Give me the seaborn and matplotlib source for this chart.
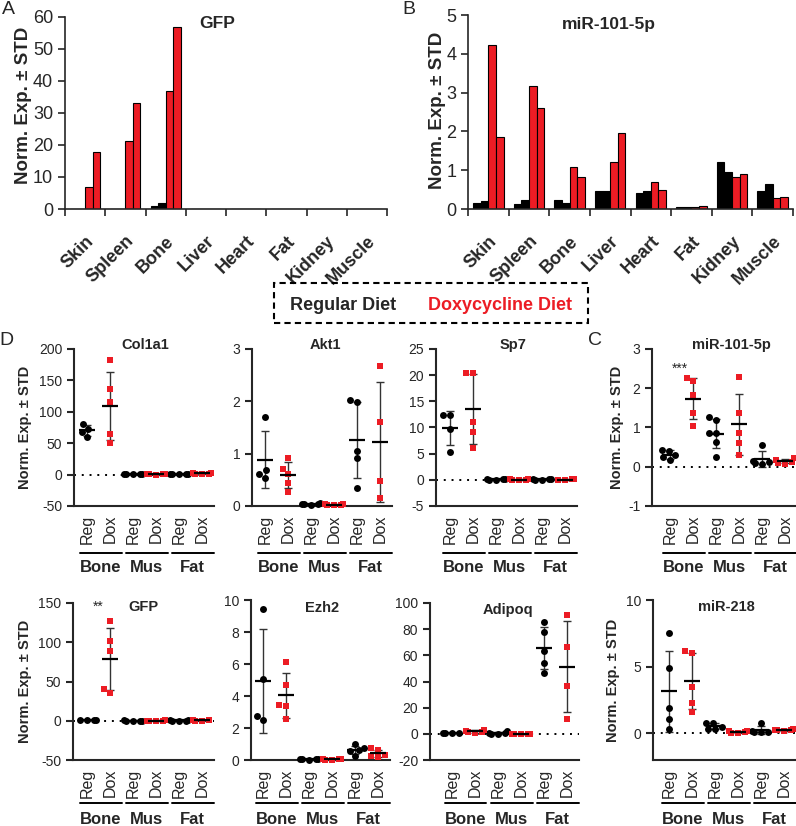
import warnings
import numpy as np
import pandas as pd
import matplotlib
matplotlib.use('Agg')
import matplotlib.pyplot as plt
import matplotlib.transforms as mtransforms
from matplotlib.patches import Rectangle
import seaborn as sns

warnings.filterwarnings('ignore')

# ---- panels A and B: bar charts per tissue (2 regular, 2 doxycycline mice) ----
tissues = ['Skin', 'Spleen', 'Bone', 'Liver', 'Heart', 'Fat', 'Kidney', 'Muscle']
bar_series = ['Reg 1', 'Reg 2', 'Dox 1', 'Dox 2']

gfp_reg1 = [0, 0, 0.8, 0, 0, 0, 0, 0]
gfp_reg2 = [0, 0, 2.0, 0, 0, 0, 0, 0]
gfp_dox1 = [7.0, 21.3, 36.8, 0, 0, 0, 0, 0]
gfp_dox2 = [17.7, 33.0, 56.7, 0, 0, 0, 0, 0]

mir101_reg1 = [0.15, 0.12, 0.22, 0.47, 0.40, 0.04, 1.20, 0.46]
mir101_reg2 = [0.20, 0.22, 0.15, 0.47, 0.47, 0.06, 0.96, 0.64]
mir101_dox1 = [4.22, 3.17, 1.08, 1.22, 0.69, 0.05, 0.83, 0.28]
mir101_dox2 = [1.85, 2.60, 0.82, 1.95, 0.50, 0.07, 0.90, 0.32]

# ---- panels C and D: individual mice per group ----
groups = ['Bone Reg', 'Bone Dox', 'Mus Reg', 'Mus Dox', 'Fat Reg', 'Fat Dox']
diet_labels = ['Reg', 'Dox', 'Reg', 'Dox', 'Reg', 'Dox']
tissue_labels = ['Bone', 'Mus', 'Fat']

col1a1 = [[81, 60, 68, 73], [183, 136, 115, 65, 50],
          [0.5, 0.3, 0.2, 0.4, 0.6], [0.2, 0.3, 0.1, 0.4, 0.2],
          [1.2, 0.8, 1.5, 0.6, 1.0], [1.5, 2.5, 0.8, 3.0, 1.2]]
akt1 = [[1.71, 0.68, 0.62, 0.54], [0.92, 0.71, 0.62, 0.43, 0.27],
        [0.03, 0.04, 0.02, 0.05, 0.03], [0.02, 0.03, 0.02, 0.01, 0.03],
        [2.02, 1.99, 1.06, 0.91, 0.34], [2.67, 1.60, 0.48, 0.15]]
sp7 = [[12.3, 12.3, 9.8, 5.3], [20.5, 20.5, 11.05, 9.2, 6.05],
       [0.10, 0.05, 0.08, 0.12, 0.06], [0.05, 0.10, 0.02, 0.08, 0.04],
       [0.10, 0.05, 0.08, 0.12, 0.06], [0.05, 0.10, 0.02, 0.08]]
mir101 = [[0.43, 0.40, 0.30, 0.25, 0.18], [2.25, 2.18, 1.83, 1.37, 1.03],
          [1.26, 1.19, 0.87, 0.85, 0.62, 0.25], [2.29, 1.36, 0.85, 0.60, 0.30],
          [0.56, 0.15, 0.12, 0.10, 0.08], [0.23, 0.18, 0.13, 0.10, 0.08]]
gfp = [[0.8, 1.2, 0.5, 1.0], [126.9, 101.7, 88.9, 35.0, 40.2],
       [0.3, 0.2, 0.4, 0.1, 0.3], [0.2, 0.3, 0.1, 0.4, 0.2],
       [0.3, 0.5, 0.2, 0.4, 0.3], [0.4, 0.3, 0.5, 0.2]]
ezh2 = [[9.45, 5.05, 2.50, 2.72], [6.14, 4.68, 3.45, 3.36, 2.59],
        [0.05, 0.08, 0.04, 0.06, 0.03], [0.04, 0.06, 0.03, 0.05, 0.02],
        [0.98, 0.72, 0.60, 0.55, 0.25], [0.72, 0.62, 0.30, 0.22, 0.18]]
adipoq = [[0.5, 0.8, 0.3, 0.6], [1.5, 2.5, 0.8, 3.0, 1.2],
          [2.5, 0.5, 0.3, 0.2, 0.1], [0.1, 0.2, 0.05, 0.15, 0.1],
          [85.6, 78.0, 63.3, 53.8, 46.7], [90.8, 66.4, 36.4, 11.5]]
mir218 = [[7.55, 4.92, 1.92, 1.04, 0.33], [6.19, 6.01, 3.48, 2.30, 1.59],
          [0.80, 0.75, 0.50, 0.35, 0.30], [0.20, 0.15, 0.10, 0.05, 0.02],
          [0.80, 0.15, 0.10, 0.08, 0.12], [0.30, 0.25, 0.20, 0.28, 0.22]]

W, H = 796, 826
RED = '#ec1c24'
YLABEL = 'Norm. Exp. \u00b1 STD'

sns.set_style('ticks')
plt.rcParams['font.family'] = ['Liberation Sans', 'DejaVu Sans']
plt.rcParams['axes.unicode_minus'] = False

fig = plt.figure(figsize=(W / 100, H / 100), dpi=100)


def px_axes(left, top, right, bottom):
    return fig.add_axes([left / W, 1 - bottom / H, (right - left) / W, (bottom - top) / H])


def fig_text(x, y, s, **kw):
    return fig.text(x / W, 1 - y / H, s, ha=kw.pop('ha', 'center'), va=kw.pop('va', 'center'), **kw)


def bar_panel(box, series, ymax, ystep, title, title_xy, ylabel_xy):
    ax = px_axes(*box)
    rows = [(t, name, v) for name, vals in zip(bar_series, series) for t, v in zip(tissues, vals)]
    df = pd.DataFrame(rows, columns=['tissue', 'series', 'value'])
    sns.barplot(data=df, x='tissue', y='value', hue='series', order=tissues, hue_order=bar_series,
                palette=['black', 'black', RED, RED], saturation=1, width=0.75, gap=0,
                edgecolor='black', linewidth=0.8, errorbar=None, legend=False, ax=ax)
    ax.set_xlim(-0.5, 7.5)
    ax.set_ylim(0, ymax)
    ax.set_yticks(np.arange(0, ymax + ystep / 2, ystep))
    ax.set_xticks(range(len(tissues)))
    ax.set_xticklabels(tissues, rotation=45, ha='right', rotation_mode='anchor',
                       fontweight='bold', fontsize=13)
    ax.set_xticks(np.arange(-0.5, len(tissues)), minor=True)
    ax.tick_params(axis='x', which='major', length=0, pad=17)
    ax.tick_params(axis='x', which='minor', length=5, width=1.2, direction='out')
    ax.tick_params(axis='y', length=5, width=1.2, labelsize=13)
    ax.set_xlabel('')
    ax.set_ylabel('')
    sns.despine(ax=ax)
    for s in ['left', 'bottom']:
        ax.spines[s].set_linewidth(1.2)
    fig_text(*title_xy, title, fontsize=12.5, fontweight='bold')
    fig_text(*ylabel_xy, YLABEL, rotation=90, fontsize=13.5, fontweight='bold')
    return ax


def dot_panel(vals, left, first, top, bottom, ylim, yticks, title, title_xy,
              bracket_px, label_px, ylabel_x=None):
    span = 23.0
    x0 = -(first - left) / span
    right = left + (5.5 - x0) * span
    ax = px_axes(left, top, right, bottom)
    rows = [(g, v) for g, vs in zip(groups, vals) for v in vs]
    df = pd.DataFrame(rows, columns=['group', 'value'])
    reg = df[df['group'].str.endswith('Reg')]
    dox = df[df['group'].str.endswith('Dox')]
    if ylim[0] < 0:
        ax.axhline(0, color='black', lw=1.4, ls=(0, (1, 3)), zorder=1)
    means = np.array([np.mean(v) for v in vals])
    sds = np.array([np.std(v, ddof=1) for v in vals])
    xs = np.arange(len(groups))
    ax.errorbar(xs, means, yerr=sds, fmt='none', ecolor='#333333', elinewidth=1,
                capsize=3, capthick=1, zorder=2, clip_on=False)
    sns.swarmplot(data=reg, x='group', y='value', order=groups, color='black', marker='o',
                  size=5, ax=ax, zorder=3, clip_on=False)
    sns.swarmplot(data=dox, x='group', y='value', order=groups, color=RED, marker='s',
                  size=4.8, ax=ax, zorder=3, clip_on=False)
    ax.hlines(means, xs - 0.33, xs + 0.33, colors='black', linewidth=1.6, zorder=4)
    ax.set_xlim(x0, 5.5)
    ax.set_ylim(*ylim)
    ax.set_yticks(yticks)
    ax.set_xticks(xs)
    ax.set_xticklabels(diet_labels, rotation=90, fontsize=11.5)
    ax.tick_params(axis='x', length=0, pad=6)
    ax.tick_params(axis='y', length=5, width=1.5, labelsize=10)
    ax.set_xlabel('')
    ax.set_ylabel('')
    sns.despine(ax=ax)
    for s in ['left', 'bottom']:
        ax.spines[s].set_linewidth(1.5)
    trans = ax.get_xaxis_transform()
    line_t = mtransforms.offset_copy(trans, fig=fig, y=-bracket_px, units='dots')
    text_t = mtransforms.offset_copy(trans, fig=fig, y=-label_px, units='dots')
    for i, name in enumerate(tissue_labels):
        ax.plot([2 * i - 0.3, 2 * i + 1.5], [0, 0], color='black', lw=1.4,
                transform=line_t, clip_on=False)
        ax.text(2 * i + 0.6, 0, name, transform=text_t, ha='center', va='center',
                fontsize=12, fontweight='bold')
    fig_text(*title_xy, title, fontsize=10.5, fontweight='bold')
    if ylabel_x is not None:
        fig_text(ylabel_x, (top + bottom) / 2, YLABEL, rotation=90, fontsize=10.5, fontweight='bold')
    return ax


# A and B
bar_panel((65, 16.7, 387, 209), [gfp_reg1, gfp_reg2, gfp_dox1, gfp_dox2], 60, 10,
          'GFP', (217, 23), (24, 105))
bar_panel((468, 15, 793, 209), [mir101_reg1, mir101_reg2, mir101_dox1, mir101_dox2], 5, 1,
          'miR-101-5p', (609, 25), (437, 110))
fig_text(8, 10, 'A', fontsize=14)
fig_text(409, 10, 'B', fontsize=14)

# diet key
fig.add_artist(Rectangle((274 / W, 1 - 323 / H), (588 - 274) / W, 40 / H,
                         transform=fig.transFigure, fill=False, ec='black', lw=1.5,
                         ls=(0, (3, 2))))
fig_text(343, 305, 'Regular Diet', fontsize=13, fontweight='bold')
fig_text(500, 305, 'Doxycycline Diet', fontsize=13, fontweight='bold', color=RED)

# C and D, top row
dot_panel(col1a1, 74, 87, 349, 506, (-50, 200), [-50, 0, 50, 100, 150, 200],
          'Col1a1', (145, 345), 47, 62, ylabel_x=25)
dot_panel(akt1, 252, 265, 349, 506, (0, 3), [0, 1, 2, 3],
          'Akt1', (325, 345), 47, 62)
dot_panel(sp7, 436, 450, 349, 506, (-5, 25), [-5, 0, 5, 10, 15, 20, 25],
          'Sp7', (513, 345), 47, 62)
dot_panel(mir101, 652, 670, 349, 506, (-1, 3), [-1, 0, 1, 2, 3],
          'miR-101-5p', (731, 345), 47, 62, ylabel_x=617)
fig_text(680, 369, '***', fontsize=10)
fig_text(6, 340, 'D', fontsize=14)
fig_text(595, 340, 'C', fontsize=14)

# bottom row
dot_panel(gfp, 73, 87, 603, 760, (-50, 150), [-50, 0, 50, 100, 150],
          'GFP', (143, 607), 43, 59, ylabel_x=25)
dot_panel(ezh2, 251, 263, 600, 760, (0, 10), [0, 2, 4, 6, 8, 10],
          'Ezh2', (322, 608), 43, 59)
dot_panel(adipoq, 430, 452, 603, 760, (-20, 100), [-20, 0, 20, 40, 60, 80, 100],
          'Adipoq', (508, 610), 43, 59)
dot_panel(mir218, 653, 669, 600, 760, (-2, 10), [0, 5, 10],
          'miR-218', (726, 607), 43, 59, ylabel_x=613)
fig_text(98, 607, '**', fontsize=10)

fig.savefig('out.png', dpi=100)
